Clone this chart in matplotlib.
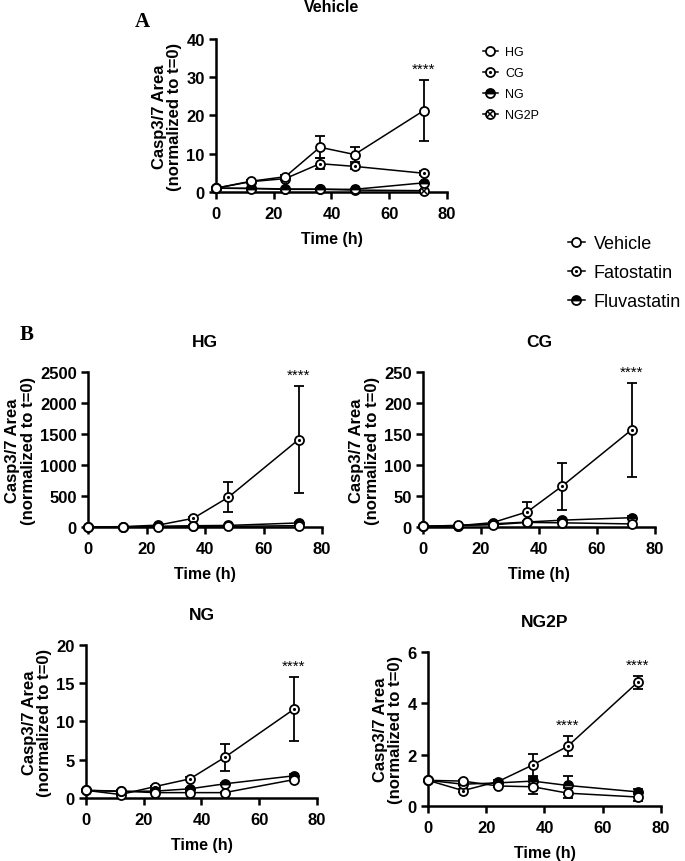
import numpy as np
import matplotlib
matplotlib.use("Agg")
import matplotlib.pyplot as plt
from matplotlib.lines import Line2D

plt.rcParams['font.family'] = ['Liberation Sans', 'DejaVu Sans']

# time points (h)
t = [0, 12, 24, 36, 48, 72]

# panel A: vehicle, per glucose condition
a_hg = [1, 2.8, 4.0, 11.7, 9.8, 21.3]
a_hg_err = [0, 0.3, 0.4, 2.9, 2.0, 7.9]
a_cg = [1, 2.7, 3.5, 7.4, 6.7, 4.9]
a_cg_err = [0, 0.3, 0.3, 1.5, 0.6, 0.5]
a_ng = [1, 0.9, 0.7, 0.7, 0.7, 2.4]
a_ng_err = [0, 0.1, 0.1, 0.1, 0.1, 0.2]
a_ng2p = [1, 0.97, 0.78, 0.75, 0.5, 0.35]
a_ng2p_err = [0, 0.05, 0.05, 0.3, 0.2, 0.15]

# panel B: treatments per condition
hg_fato = [1, 5, 30, 140, 480, 1410]
hg_fato_err = [0, 2, 8, 20, 245, 860]
hg_fluva = [1, 2, 10, 20, 25, 65]
hg_fluva_err = [0, 0, 2, 4, 5, 10]

cg_fato = [1, 2, 7, 24.5, 66, 157]
cg_fato_err = [0, 0.3, 1, 15, 38, 76]
cg_fluva = [1, 2, 5, 8, 11, 15]
cg_fluva_err = [0, 0.2, 0.5, 1, 1.5, 2]

ng_fato = [1, 0.45, 1.5, 2.5, 5.3, 11.6]
ng_fato_err = [0, 0.05, 0.1, 0.2, 1.75, 4.2]
ng_fluva = [1, 0.85, 0.9, 1.2, 1.85, 2.9]
ng_fluva_err = [0, 0.05, 0.1, 0.1, 0.15, 0.2]

ng2p_fato = [1, 0.6, 0.95, 1.6, 2.33, 4.82]
ng2p_fato_err = [0, 0.05, 0.05, 0.42, 0.4, 0.25]
ng2p_fluva = [1, 0.85, 0.9, 0.97, 0.8, 0.55]
ng2p_fluva_err = [0, 0.05, 0.05, 0.15, 0.35, 0.1]

MS = 6.5


def draw(ax, x, y, err, kind, z):
    ax.errorbar(x, y, yerr=err, color='black', lw=1.1, elinewidth=1.3,
                capsize=3.5, capthick=1.3, marker='none', zorder=z, clip_on=False)
    if kind == 'open':
        ax.plot(x, y, 'o', ms=MS, mfc='white', mec='black', mew=1.3, zorder=z + 0.5, clip_on=False)
    elif kind == 'dot':
        ax.plot(x, y, 'o', ms=MS, mfc='white', mec='black', mew=1.3, zorder=z + 0.5, clip_on=False)
        ax.plot(x, y, '.', ms=2.5, color='black', zorder=z + 0.6, clip_on=False)
    elif kind == 'half':
        ax.plot(x, y, 'o', ms=MS, mfc='black', mfcalt='white', fillstyle='top',
                mec='black', mew=1.3, zorder=z + 0.5, clip_on=False)
    elif kind == 'cross':
        ax.plot(x, y, 'o', ms=MS, mfc='white', mec='black', mew=1.3, zorder=z + 0.5, clip_on=False)
        ax.plot(x, y, 'x', ms=4, color='black', mew=1.1, zorder=z + 0.6, clip_on=False)


def style(ax, ymax, yticks, title):
    ax.set_xlim(0, 80)
    ax.set_ylim(0, ymax)
    ax.set_xticks([0, 20, 40, 60, 80])
    ax.set_yticks(yticks)
    for s in ['top', 'right']:
        ax.spines[s].set_visible(False)
    for s in ['left', 'bottom']:
        ax.spines[s].set_linewidth(1.8)
    ax.tick_params(width=1.8, length=5, labelsize=12, pad=3)
    ax.tick_params(axis='x', pad=5)
    for lab in ax.get_xticklabels() + ax.get_yticklabels():
        lab.set_fontweight('bold')
    ax.set_xlabel('Time (h)', fontsize=11.5, fontweight='bold', labelpad=7)
    ax.set_ylabel('Casp3/7 Area\n(normalized to t=0)', fontsize=12, fontweight='bold',
                  labelpad=3, linespacing=1.05)
    ax.set_title(title, fontsize=12.5, fontweight='bold', pad=19)


def stars(ax, x, y):
    ax.annotate('****', (x, y), xytext=(0, 3), textcoords='offset points',
                ha='center', va='bottom', fontsize=11)


fig = plt.figure(figsize=(6.85, 8.62), dpi=100)

# panel A
axA = fig.add_axes([0.3153, 0.7761, 0.3372, 0.1775])
draw(axA, t, a_ng2p, a_ng2p_err, 'cross', 3)
draw(axA, t, a_ng, a_ng_err, 'half', 4)
draw(axA, t, a_cg, a_cg_err, 'dot', 5)
draw(axA, t, a_hg, a_hg_err, 'open', 6)
style(axA, 40, [0, 10, 20, 30, 40], 'Vehicle')
axA.set_title('Vehicle', fontsize=11.5, fontweight='bold', pad=20)
stars(axA, 72, a_hg[-1] + a_hg_err[-1])

hA = [Line2D([], [], color='black', lw=1.1, marker='o', ms=MS, mfc='white', mec='black', mew=1.3),
      (Line2D([], [], color='black', lw=1.1, marker='o', ms=MS, mfc='white', mec='black', mew=1.3),
       Line2D([], [], ls='none', marker='.', ms=2.5, color='black')),
      Line2D([], [], color='black', lw=1.1, marker='o', ms=MS, mfc='black', mfcalt='white',
             fillstyle='top', mec='black', mew=1.3),
      (Line2D([], [], color='black', lw=1.1, marker='o', ms=MS, mfc='white', mec='black', mew=1.3),
       Line2D([], [], ls='none', marker='x', ms=4, color='black', mew=1.1))]
fig.legend(hA, ['HG', 'CG', 'NG', 'NG2P'], loc='upper left', bbox_to_anchor=(0.688, 0.958),
           frameon=False, fontsize=9, handlelength=1.2, handletextpad=0.6, labelspacing=0.72)

# panel B legend
hB = hA[:3]
fig.legend(hB, ['Vehicle', 'Fatostatin', 'Fluvastatin'], loc='upper left',
           bbox_to_anchor=(0.806, 0.745), frameon=False, fontsize=13,
           handlelength=0.9, handletextpad=0.5, labelspacing=0.66)

fig.text(0.197, 0.975, 'A', fontsize=15, fontweight='bold', family='Liberation Serif', va='center')
fig.text(0.028, 0.611, 'B', fontsize=15, fontweight='bold', family='Liberation Serif', va='center')

panels = [
    ([0.1285, 0.3875, 0.3416, 0.1798], 'HG', hg_fato, hg_fato_err, hg_fluva, hg_fluva_err,
     a_hg, a_hg_err, 2500, [0, 500, 1000, 1500, 2000, 2500], [72]),
    ([0.6175, 0.3875, 0.3387, 0.1798], 'CG', cg_fato, cg_fato_err, cg_fluva, cg_fluva_err,
     a_cg, a_cg_err, 250, [0, 50, 100, 150, 200, 250], [72]),
    ([0.1255, 0.0731, 0.3372, 0.1775], 'NG', ng_fato, ng_fato_err, ng_fluva, ng_fluva_err,
     a_ng, a_ng_err, 20, [0, 5, 10, 15, 20], [72]),
    ([0.6248, 0.0638, 0.3401, 0.1787], 'NG2P', ng2p_fato, ng2p_fato_err, ng2p_fluva, ng2p_fluva_err,
     a_ng2p, a_ng2p_err, 6, [0, 2, 4, 6], [48, 72]),
]

for rect, title, fato, fato_e, fluva, fluva_e, veh, veh_e, ymax, yt, star_t in panels:
    ax = fig.add_axes(rect)
    draw(ax, t, fato, fato_e, 'dot', 3)
    draw(ax, t, fluva, fluva_e, 'half', 4)
    draw(ax, t, veh, veh_e, 'open', 5)
    style(ax, ymax, yt, title)
    for st in star_t:
        i = t.index(st)
        stars(ax, st, fato[i] + fato_e[i])

fig.savefig('out.png', dpi=100)
